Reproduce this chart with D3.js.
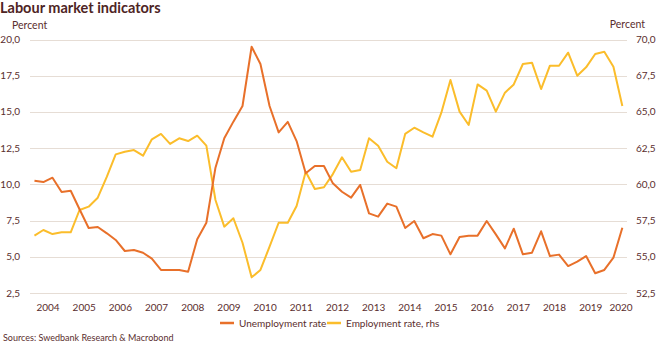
<!DOCTYPE html>
<html>
<head>
<meta charset="utf-8">
<script src="https://cdn.jsdelivr.net/npm/d3@7"></script>
<style>
  body { margin: 0; background: #fff; }
  svg { display: block; font-family: Lato, "Open Sans", sans-serif; }
</style>
</head>
<body>
<svg id="chart" width="656" height="347"></svg>
<script>
// quarterly observations, 2004Q1 .. 2020Q2
const startYear = 2004;
const unemployment = [
  10.25, 10.16, 10.46, 9.47, 9.56, 8.28, 6.99, 7.06,
  6.62, 6.16, 5.40, 5.47, 5.28, 4.87, 4.09, 4.09,
  4.09, 3.97, 6.21, 7.35, 11.15, 13.18, 14.33, 15.41,
  19.50, 18.31, 15.41, 13.59, 14.31, 12.99, 10.76, 11.27,
  11.27, 10.07, 9.49, 9.08, 9.96, 8.00, 7.77, 8.67,
  8.46, 6.99, 7.47, 6.28, 6.57, 6.46, 5.17, 6.37,
  6.46, 6.46, 7.47, 6.55, 5.58, 6.94, 5.17, 5.28,
  6.76, 5.05, 5.15, 4.36, 4.66, 5.05, 3.86, 4.09,
  4.94, 7.01
];
const employment = [
  56.46, 56.85, 56.57, 56.69, 56.69, 58.23, 58.46, 59.08,
  60.53, 62.07, 62.25, 62.37, 61.98, 63.11, 63.48, 62.79,
  63.18, 62.99, 63.36, 62.67, 58.92, 57.08, 57.66, 55.97,
  53.58, 54.09, 55.70, 57.35, 57.35, 58.51, 60.87, 59.68,
  59.80, 60.71, 61.87, 60.87, 60.99, 63.18, 62.67, 61.56,
  61.11, 63.48, 63.91, 63.59, 63.29, 64.95, 67.20, 65.02,
  64.10, 66.90, 66.47, 65.02, 66.33, 66.90, 68.31, 68.40,
  66.58, 68.19, 68.19, 69.09, 67.50, 68.08, 69.00, 69.16,
  68.12, 65.41
];
const leftTicks = [2.5, 5, 7.5, 10, 12.5, 15, 17.5, 20];
const rightTicks = [52.5, 55, 57.5, 60, 62.5, 65, 67.5, 70];
const yearLabels = d3.range(2004, 2021);
const seriesNames = ["Unemployment rate", "Employment rate, rhs"];

const C_TEXT = "#5a2e2e";
const C_GRID = "#e6ddd5";
const C_ORANGE = "#e8702a";
const C_YELLOW = "#fbbd2b";

const svg = d3.select("#chart");
const fmt = v => d3.format(".1f")(v).replace(".", ",");

// dates at the middle of each quarter
const quarterDate = i => new Date(startYear + Math.floor(i / 4), (i % 4) * 3 + 1, 15);

const x = d3.scaleTime()
  .domain([new Date(2004, 0, 1), new Date(2020, 6, 1)])
  .range([30, 627]);
const yL = d3.scaleLinear().domain([2.5, 20]).range([293, 39.5]);
const yR = d3.scaleLinear().domain([52.5, 70]).range([293, 39.5]);

// title and unit labels
svg.append("text").attr("x", 0).attr("y", 13)
  .attr("font-size", 14.5).attr("font-weight", 700).attr("fill", "#4e2424")
  .text("Labour market indicators");
svg.append("text").attr("x", 12).attr("y", 29)
  .attr("font-size", 10.5).attr("fill", C_TEXT).text("Percent");
svg.append("text").attr("x", 645).attr("y", 28).attr("text-anchor", "end")
  .attr("font-size", 10.5).attr("fill", C_TEXT).text("Percent");

// grid
svg.append("g").selectAll("line").data(leftTicks).join("line")
  .attr("x1", 30).attr("x2", 627)
  .attr("y1", d => Math.round(yL(d)) + 0.5).attr("y2", d => Math.round(yL(d)) + 0.5)
  .attr("stroke", C_GRID).attr("stroke-width", 1);

// left axis labels
svg.append("g").selectAll("text").data(leftTicks).join("text")
  .attr("x", 20).attr("y", d => yL(d)).attr("dy", "0.35em")
  .attr("text-anchor", "end").attr("font-size", 10).attr("fill", C_TEXT)
  .text(fmt);

// right axis labels
svg.append("g").selectAll("text").data(rightTicks).join("text")
  .attr("x", 636).attr("y", d => yR(d)).attr("dy", "0.35em")
  .attr("font-size", 10).attr("fill", C_TEXT)
  .text(fmt);

// year labels at mid-year, last one kept inside the plot
svg.append("g").selectAll("text").data(yearLabels).join("text")
  .attr("x", d => Math.min(x(new Date(d, 6, 1)), 621))
  .attr("y", 311).attr("text-anchor", "middle")
  .attr("font-size", 10).attr("fill", C_TEXT)
  .text(d => d);

// lines
const lineL = d3.line().x((d, i) => x(quarterDate(i))).y(d => yL(d));
const lineR = d3.line().x((d, i) => x(quarterDate(i))).y(d => yR(d));

svg.append("path").datum(employment).attr("d", lineR)
  .attr("fill", "none").attr("stroke", C_YELLOW).attr("stroke-width", 2)
  .attr("stroke-linejoin", "round");
svg.append("path").datum(unemployment).attr("d", lineL)
  .attr("fill", "none").attr("stroke", C_ORANGE).attr("stroke-width", 2)
  .attr("stroke-linejoin", "round");

// legend
const legend = svg.append("g");
const legendItems = [
  { name: seriesNames[0], color: C_ORANGE, x: 220 },
  { name: seriesNames[1], color: C_YELLOW, x: 327 }
];
legendItems.forEach(it => {
  legend.append("line").attr("x1", it.x).attr("x2", it.x + 14)
    .attr("y1", 323).attr("y2", 323)
    .attr("stroke", it.color).attr("stroke-width", 2.5);
  legend.append("text").attr("x", it.x + 19).attr("y", 323).attr("dy", "0.35em")
    .attr("font-size", 10).attr("fill", C_TEXT).text(it.name);
});

// source
svg.append("text").attr("x", 3).attr("y", 341)
  .attr("font-size", 9).attr("fill", C_TEXT)
  .text("Sources: Swedbank Research & Macrobond");
</script>
</body>
</html>
